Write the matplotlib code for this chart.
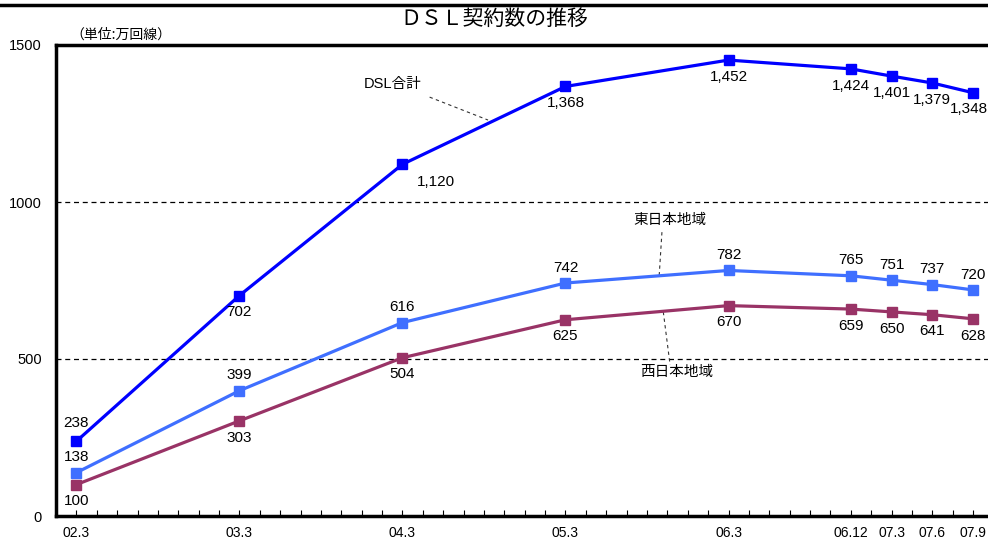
import matplotlib
matplotlib.use("Agg")
import matplotlib.pyplot as plt
from matplotlib.lines import Line2D

plt.rcParams['font.family'] = ['Liberation Sans', 'Noto Sans CJK JP', 'DejaVu Sans']

# months since 2002.3
months = [0, 12, 24, 36, 48, 57, 60, 63, 66]
tick_labels = ["02.3", "03.3", "04.3", "05.3", "06.3", "06.12", "07.3", "07.6", "07.9"]
dsl_total = [238, 702, 1120, 1368, 1452, 1424, 1401, 1379, 1348]
east = [138, 399, 616, 742, 782, 765, 751, 737, 720]
west = [100, 303, 504, 625, 670, 659, 650, 641, 628]

c_total = "#0000FF"
c_east = "#3F6FFF"
c_west = "#993366"

cjk = ['Noto Sans CJK JP', 'DejaVu Sans']

fig = plt.figure(figsize=(9.88, 5.39), dpi=100)
ax = fig.add_axes([56/988, 1-516/539, 1-56/988, (516-45)/539])

ax.set_xlim(-1.5, 67.1)
ax.set_ylim(0, 1500)

for vals, c in [(dsl_total, c_total), (east, c_east), (west, c_west)]:
    ax.plot(months, vals, color=c, lw=2.3, marker='s', ms=7, mec=c, mfc=c, zorder=3)

# dashed grid lines
for yv in (500, 1000):
    ax.axhline(yv, color='black', lw=0.9, ls=(0, (4, 3)), zorder=1)

fs = 11
last = len(months) - 1
# DSL total labels
for i, (m, v) in enumerate(zip(months, dsl_total)):
    dx = -3 if i == last else 0
    if i == 0:
        ax.annotate(str(v), (m, v), xytext=(0, 8), textcoords='offset points', ha='center', va='bottom', fontsize=fs)
    elif i == 2:
        ax.annotate(f"{v:,}", (m, v), xytext=(24, -8), textcoords='offset points', ha='center', va='top', fontsize=fs)
    else:
        ax.annotate(f"{v:,}", (m, v), xytext=(dx, -7), textcoords='offset points', ha='center', va='top', fontsize=fs)
for m, v in zip(months, east):
    ax.annotate(f"{v:,}", (m, v), xytext=(0, 6), textcoords='offset points', ha='center', va='bottom', fontsize=fs)
for m, v in zip(months, west):
    ax.annotate(f"{v:,}", (m, v), xytext=(0, -7), textcoords='offset points', ha='center', va='top', fontsize=fs)

# series annotations with dashed leaders
ax.text(23.3, 1376, "DSL合計", ha='center', va='center', fontsize=10.5)
ax.plot([26.0, 30.3], [1334, 1261], color='#333333', lw=0.8, ls=(0, (3, 3)))
ax.text(43.7, 943, "東日本地域", ha='center', va='center', fontsize=10.5, family=cjk)
ax.plot([43.1, 42.9], [904, 767], color='#333333', lw=0.8, ls=(0, (3, 3)))
ax.text(44.2, 459, "西日本地域", ha='center', va='center', fontsize=10.5, family=cjk)
ax.plot([43.2, 43.7], [650, 481], color='#333333', lw=0.8, ls=(0, (3, 3)))

# axes styling
ax.spines['right'].set_visible(False)
for s in ('left', 'bottom', 'top'):
    ax.spines[s].set_linewidth(2.5)
ax.set_yticks([0, 500, 1000, 1500])
ax.set_yticklabels(["0", "500", "1000", "1500"], fontsize=10.5)
ax.tick_params(axis='y', length=0, pad=10)
ax.set_xticks(months)
ax.set_xticklabels(tick_labels, fontsize=10)
ax.set_xticks([i * 1.5 for i in range(0, 45)], minor=True)
ax.tick_params(axis='x', which='both', direction='in', length=4, width=0.8, pad=7)

ax.text(0.015, 1.008, "（単位:万回線）", transform=ax.transAxes, ha='left', va='bottom', fontsize=10, family=cjk)

fig.text(0.5, 1-19/539, "ＤＳＬ契約数の推移", ha='center', va='center', fontsize=15, family=cjk)
fig.add_artist(Line2D([0, 1], [1-5/539, 1-5/539], color='black', lw=2.5, transform=fig.transFigure))

fig.savefig("out.png", dpi=100)
